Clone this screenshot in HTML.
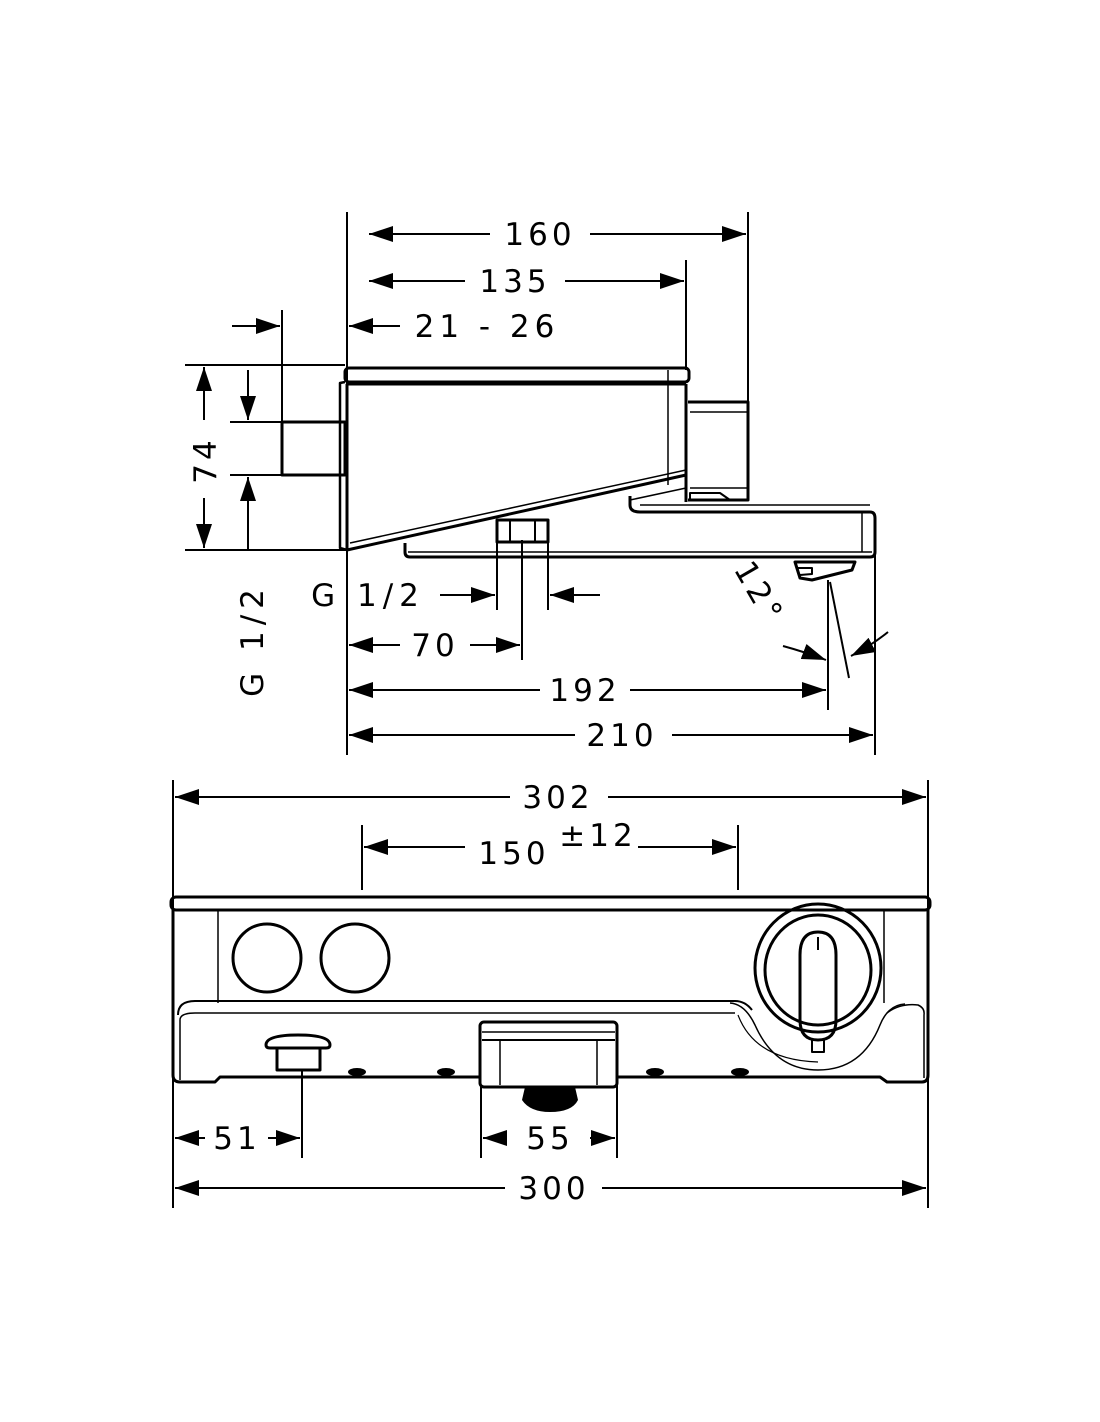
<!DOCTYPE html>
<html><head><meta charset="utf-8"><style>
html,body{margin:0;padding:0;background:#fff}
svg{display:block}
text{font-family:"DejaVu Sans","Liberation Sans",sans-serif;font-size:31px;fill:#000;letter-spacing:4px}
</style></head><body>
<svg width="1100" height="1422" viewBox="0 0 1100 1422" xmlns="http://www.w3.org/2000/svg">
<defs>
<marker id="a" viewBox="0 0 24 16" refX="24" refY="8" markerWidth="24" markerHeight="16" markerUnits="userSpaceOnUse" orient="auto"><path d="M0,0 L24,8 L0,16 Z" fill="#000"/></marker>
</defs>
<g stroke="#000" stroke-width="2" fill="none">
<!-- extension lines top -->
<line x1="347" y1="212" x2="347" y2="755"/>
<line x1="748" y1="212" x2="748" y2="402"/>
<line x1="686" y1="260" x2="686" y2="370"/>
<line x1="282" y1="310" x2="282" y2="422"/>
<line x1="875" y1="520" x2="875" y2="755"/>
<line x1="828" y1="580" x2="828" y2="710"/>
<line x1="830" y1="582" x2="849" y2="678"/>
<line x1="185" y1="365" x2="345" y2="365"/>
<line x1="185" y1="550" x2="347" y2="550"/>
<line x1="230" y1="422" x2="282" y2="422"/>
<line x1="230" y1="475" x2="282" y2="475"/>
<line x1="497" y1="540" x2="497" y2="610"/>
<line x1="548" y1="540" x2="548" y2="610"/>
<line x1="522" y1="540" x2="522" y2="660"/>
<!-- dims top -->
<line x1="490" y1="234" x2="369" y2="234" marker-end="url(#a)"/>
<line x1="590" y1="234" x2="746" y2="234" marker-end="url(#a)"/>
<line x1="465" y1="281" x2="369" y2="281" marker-end="url(#a)"/>
<line x1="565" y1="281" x2="684" y2="281" marker-end="url(#a)"/>
<line x1="400" y1="326" x2="349" y2="326" marker-end="url(#a)"/>
<line x1="232" y1="326" x2="280" y2="326" marker-end="url(#a)"/>
<line x1="204" y1="420" x2="204" y2="367" marker-end="url(#a)"/>
<line x1="204" y1="498" x2="204" y2="548" marker-end="url(#a)"/>
<line x1="248" y1="370" x2="248" y2="420" marker-end="url(#a)"/>
<line x1="248" y1="550" x2="248" y2="477" marker-end="url(#a)"/>
<line x1="440" y1="595" x2="495" y2="595" marker-end="url(#a)"/>
<line x1="600" y1="595" x2="550" y2="595" marker-end="url(#a)"/>
<line x1="400" y1="645" x2="349" y2="645" marker-end="url(#a)"/>
<line x1="470" y1="645" x2="520" y2="645" marker-end="url(#a)"/>
<line x1="540" y1="690" x2="349" y2="690" marker-end="url(#a)"/>
<line x1="630" y1="690" x2="826" y2="690" marker-end="url(#a)"/>
<line x1="575" y1="735" x2="349" y2="735" marker-end="url(#a)"/>
<line x1="672" y1="735" x2="873" y2="735" marker-end="url(#a)"/>
<path d="M783,646 Q805,652 826,660" marker-end="url(#a)"/>
<path d="M888,632 Q872,645 851,656" marker-end="url(#a)"/>
</g>
<!-- top body -->
<g stroke="#000" fill="none" stroke-linejoin="round">
<rect x="345" y="368" width="344" height="14" rx="4" stroke-width="3"/>
<line x1="347" y1="384" x2="686" y2="384" stroke-width="3"/>
<line x1="347" y1="384" x2="347" y2="550" stroke-width="3"/>
<path d="M345,382 L340,383 L340,548 L347,550" stroke-width="2.5"/>
<line x1="668" y1="370" x2="668" y2="485" stroke-width="1.5"/>
<line x1="686" y1="384" x2="686" y2="502" stroke-width="3"/>
<path d="M347,550 L686,475" stroke-width="3"/>
<path d="M350,543 L686,470" stroke-width="1.5"/>
<rect x="282" y="422" width="63" height="53" stroke-width="3"/>
<path d="M688,402 L748,402 L748,500 L688,500" stroke-width="3"/>
<line x1="690" y1="412" x2="748" y2="412" stroke-width="1.5"/>
<line x1="690" y1="488" x2="748" y2="488" stroke-width="1.5"/>
<path d="M690,500 L690,493 L720,493 L730,500" stroke-width="2"/>
<path d="M630,496 L630,505 Q630,512 640,512 L870,512 Q875,512 875,518 L875,552 Q875,557 870,557 L410,557 Q405,557 405,552 L405,543" stroke-width="3"/>
<line x1="640" y1="505" x2="870" y2="505" stroke-width="1.5"/>
<line x1="408" y1="552" x2="872" y2="552" stroke-width="1.5"/>
<line x1="862" y1="512" x2="862" y2="552" stroke-width="1.5"/>
<path d="M630,500 L686,488" stroke-width="1.5"/>
<rect x="497" y="520" width="51" height="22" stroke-width="3"/>
<line x1="510" y1="520" x2="510" y2="542" stroke-width="2"/>
<line x1="535" y1="520" x2="535" y2="542" stroke-width="2"/>
<path d="M795,562 L855,562 L852,570 L812,580 L800,578 Z" stroke-width="3"/>
<path d="M798,568 L812,568 L812,574 L800,575" stroke-width="2"/>
</g>
<!-- top texts -->
<text x="540" y="245" text-anchor="middle">160</text>
<text x="515" y="292" text-anchor="middle">135</text>
<text x="487" y="337" text-anchor="middle" style="letter-spacing:5px">21 - 26</text>
<text transform="translate(216,460) rotate(-90)" text-anchor="middle">74</text>
<text transform="translate(263,640) rotate(-90)" text-anchor="middle" style="letter-spacing:6px">G 1/2</text>
<text x="368" y="606" text-anchor="middle" style="letter-spacing:6px">G 1/2</text>
<text x="435" y="656" text-anchor="middle">70</text>
<text x="585" y="701" text-anchor="middle">192</text>
<text x="622" y="746" text-anchor="middle">210</text>
<text transform="translate(750,598) rotate(60)" text-anchor="middle">12°</text>

<!-- bottom dims -->
<g stroke="#000" stroke-width="2" fill="none">
<line x1="173" y1="780" x2="173" y2="1208"/>
<line x1="928" y1="780" x2="928" y2="1208"/>
<line x1="362" y1="825" x2="362" y2="890"/>
<line x1="738" y1="825" x2="738" y2="890"/>
<line x1="302" y1="1070" x2="302" y2="1158"/>
<line x1="481" y1="1085" x2="481" y2="1158"/>
<line x1="617" y1="1085" x2="617" y2="1158"/>
<line x1="510" y1="797" x2="175" y2="797" marker-end="url(#a)"/>
<line x1="608" y1="797" x2="926" y2="797" marker-end="url(#a)"/>
<line x1="465" y1="847" x2="364" y2="847" marker-end="url(#a)"/>
<line x1="638" y1="847" x2="736" y2="847" marker-end="url(#a)"/>
<line x1="205" y1="1138" x2="175" y2="1138" marker-end="url(#a)"/>
<line x1="268" y1="1138" x2="300" y2="1138" marker-end="url(#a)"/>
<line x1="505" y1="1138" x2="483" y2="1138" marker-end="url(#a)"/>
<line x1="590" y1="1138" x2="615" y2="1138" marker-end="url(#a)"/>
<line x1="505" y1="1188" x2="175" y2="1188" marker-end="url(#a)"/>
<line x1="602" y1="1188" x2="926" y2="1188" marker-end="url(#a)"/>
</g>
<g stroke="#000" fill="none" stroke-linejoin="round">
<rect x="171" y="897" width="759" height="13" rx="5" stroke-width="3"/>
<path d="M173,910 L173,1075 Q173,1082 180,1082 L215,1082 L220,1077 L480,1077" stroke-width="3"/>
<path d="M617,1077 L880,1077 L887,1082 L922,1082 Q928,1082 928,1075 L928,910" stroke-width="3"/>
<line x1="218" y1="910" x2="218" y2="1003" stroke-width="1.5"/>
<line x1="884" y1="910" x2="884" y2="1003" stroke-width="1.5"/>
<path d="M178,1015 Q178,1001 195,1001 L735,1001 Q745,1001 752,1010" stroke-width="2"/>
<path d="M180,1080 L180,1020 Q180,1013 195,1013 L735,1013" stroke-width="1.5"/>
<path d="M887,1013 Q900,1003 918,1005 Q925,1008 924,1015 L924,1078" stroke-width="1.5"/>
<path d="M730,1003 Q745,1004 755,1025 Q775,1070 818,1070 Q862,1070 880,1025 Q888,1005 905,1004" stroke-width="1.5"/>
<path d="M738,1015 Q755,1060 818,1062" stroke-width="1.2"/>
<circle cx="267" cy="958" r="34" stroke-width="3"/>
<circle cx="355" cy="958" r="34" stroke-width="3"/>
<ellipse cx="818" cy="968" rx="63" ry="64" stroke-width="3"/>
<ellipse cx="818" cy="970" rx="53" ry="55" stroke-width="3"/>
<path d="M800,955 Q800,932 818,932 Q836,932 836,955 L836,1020 Q836,1040 818,1040 Q800,1040 800,1020 Z" stroke-width="3"/>
<line x1="818" y1="937" x2="818" y2="950" stroke-width="2"/>
<rect x="812" y="1040" width="12" height="12" stroke-width="2"/>
<path d="M266,1045 Q266,1035 298,1035 Q330,1035 330,1045 Q330,1048 326,1048 L270,1048 Q266,1048 266,1045 Z" stroke-width="3"/>
<rect x="277" y="1048" width="43" height="22" stroke-width="3"/>
<rect x="480" y="1022" width="137" height="65" rx="4" stroke-width="3"/>
<line x1="482" y1="1032" x2="615" y2="1032" stroke-width="1.5"/>
<line x1="482" y1="1040" x2="615" y2="1040" stroke-width="2"/>
<line x1="500" y1="1040" x2="500" y2="1085" stroke-width="1.5"/>
<line x1="597" y1="1040" x2="597" y2="1085" stroke-width="1.5"/>
</g>
<path d="M525,1087 L522,1100 Q530,1112 550,1112 Q572,1112 578,1100 L575,1087 Z" fill="#000"/>
<g fill="#000">
<ellipse cx="357" cy="1072" rx="9" ry="4"/>
<ellipse cx="446" cy="1072" rx="9" ry="4"/>
<ellipse cx="655" cy="1072" rx="9" ry="4"/>
<ellipse cx="740" cy="1072" rx="9" ry="4"/>
</g>
<text x="558" y="808" text-anchor="middle">302</text>
<text x="514" y="864" text-anchor="middle">150</text>
<text x="598" y="846" text-anchor="middle">±12</text>
<text x="237" y="1149" text-anchor="middle">51</text>
<text x="550" y="1149" text-anchor="middle">55</text>
<text x="554" y="1199" text-anchor="middle">300</text>
</svg>
</body></html>
